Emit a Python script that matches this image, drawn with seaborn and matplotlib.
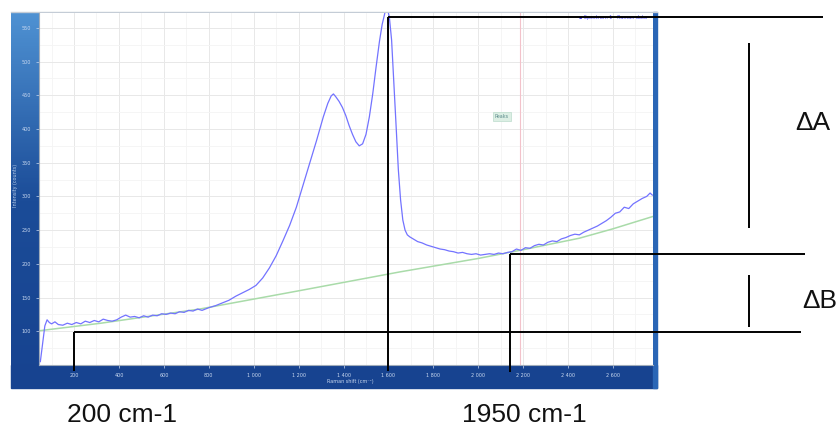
import numpy as np
import matplotlib
matplotlib.use('Agg')
import matplotlib.pyplot as plt
from matplotlib.ticker import MultipleLocator, FuncFormatter
import seaborn as sns

# Raman spectrum (cm-1, counts)
raman_shift = [50, 60, 70, 80, 90, 100, 115, 130, 150, 170, 190, 210, 230, 250, 270, 290,
               310, 330, 350, 370, 390, 410, 430, 450, 470, 490, 510, 530, 550, 570, 590,
               610, 630, 650, 670, 690, 710, 730, 750, 770, 800, 830, 860, 890, 920, 950,
               980, 1010, 1040, 1070, 1100, 1130, 1160, 1190, 1220, 1250, 1280, 1310, 1330,
               1345, 1355, 1365, 1380, 1395, 1410, 1425, 1440, 1455, 1470, 1485, 1500, 1515,
               1530, 1545, 1560, 1572, 1584, 1594, 1604, 1614, 1624, 1634, 1644, 1654, 1664,
               1674, 1684, 1695, 1710, 1730, 1750, 1770, 1790, 1810, 1830, 1850, 1870, 1890,
               1910, 1930, 1950, 1970, 1990, 2010, 2030, 2050, 2070, 2090, 2110, 2130, 2150,
               2170, 2190, 2210, 2230, 2250, 2270, 2290, 2310, 2330, 2350, 2370, 2390, 2410,
               2430, 2450, 2470, 2490, 2510, 2530, 2550, 2570, 2590, 2610, 2630, 2650, 2670,
               2690, 2710, 2730, 2750, 2765, 2775]
intensity = [55, 82, 108, 117, 113, 111, 114, 110, 109, 112, 110, 113, 111, 115, 113, 116,
             114, 118, 116, 115, 117, 121, 124, 121, 122, 120, 123, 121, 124, 123, 126,
             125, 127, 126, 129, 128, 131, 130, 133, 131, 135, 138, 142, 146, 152, 157,
             162, 168, 179, 194, 212, 234, 257, 284, 317, 350, 383, 418, 438,
             449, 452, 448, 441, 432, 420, 405, 392, 381, 375, 378, 392, 418,
             452, 492, 530, 555, 572, 580, 566, 532, 470, 405, 340, 295, 265,
             250, 243, 240, 237, 233, 231, 228, 226, 224, 222, 221, 219, 218,
             216, 217, 215, 214, 215, 213, 214, 215, 214, 216, 215, 217, 218,
             222, 220, 224, 223, 227, 229, 228, 232, 234, 233, 237, 239, 242,
             244, 243, 247, 250, 253, 256, 260, 264, 269, 275, 277, 284, 282,
             289, 293, 297, 300, 305, 302]

# fitted baseline (green)
baseline_shift = [50, 320, 760, 1200, 1650, 2000, 2200, 2450, 2600, 2775]
baseline_counts = [101, 112, 133, 160, 188, 208, 221, 238, 252, 270]

x_ticks = [200, 400, 600, 800, 1000, 1200, 1400, 1600, 1800, 2000, 2200, 2400, 2600]
y_ticks = [100, 150, 200, 250, 300, 350, 400, 450, 500, 550]

# hand drawn annotation (cm-1 / counts)
mark_x = [200, 1598, 2140]
level_top = 566
level_mid = 214
level_low = 99
cursor_x = 2186

fig = plt.figure(figsize=(8.4, 4.3), dpi=100)

# background: screenshot frame, pixel coordinates
bg = fig.add_axes([0, 0, 1, 1])
bg.set_xlim(0, 840)
bg.set_ylim(430, 0)
bg.axis('off')
grad = np.linspace(0, 1, 200).reshape(-1, 1)
cmap = matplotlib.colors.LinearSegmentedColormap.from_list('frame', ['#4f92d3', '#1b4c98', '#174390'])
bg.imshow(grad, extent=(11, 40, 388, 12), cmap=cmap, aspect='auto', zorder=1)
bg.add_patch(plt.Rectangle((11, 365), 646, 23, color='#174390', zorder=2))
bg.add_patch(plt.Rectangle((653, 12), 4, 376, color='#2a66b6', zorder=2))
bg.plot([11, 657], [12, 12], color='#c4ccd6', lw=1, zorder=3)
bg.text(16, 185, 'Intensity (counts)', rotation=90, ha='center', va='center',
        fontsize=3.5, color='#b8cdea')
bg.text(350, 382, 'Raman shift (cm\u207b\u00b9)', ha='center', va='center',
        fontsize=3.5, color='#c8d8f0')

txt = dict(family=['Liberation Sans', 'DejaVu Sans'], fontsize=19, color='#111111')
bg.text(795, 123, '\u0394A', ha='left', va='center', **txt)
bg.text(802, 301, '\u0394B', ha='left', va='center', **txt)
bg.text(67, 415, '200 cm-1', ha='left', va='center', **txt)
bg.text(462, 415, '1950 cm-1', ha='left', va='center', **txt)

# main plot area
ax = fig.add_axes([39 / 840, (430 - 365) / 430, 614 / 840, 352 / 430])
ax.set_facecolor('white')
ax.set_xlim(44, 2778)
ax.set_ylim(50, 572)
ax.xaxis.set_major_locator(plt.FixedLocator(x_ticks))
ax.yaxis.set_major_locator(plt.FixedLocator(y_ticks))
ax.xaxis.set_minor_locator(MultipleLocator(100))
ax.yaxis.set_minor_locator(MultipleLocator(25))
ax.xaxis.set_major_formatter(FuncFormatter(lambda v, p: f'{int(v):,}'.replace(',', ' ')))
ax.grid(which='major', color='#e8e8e8', lw=0.7)
ax.grid(which='minor', color='#f4f4f4', lw=0.6)
ax.set_axisbelow(True)
ax.tick_params(which='both', labelsize=3.5, colors='#c8d8f0', length=2, width=0.5, pad=4)
ax.tick_params(which='minor', length=0)
for s in ['top', 'right']:
    ax.spines[s].set_visible(False)
for s in ['left', 'bottom']:
    ax.spines[s].set_color('#a0acba')
    ax.spines[s].set_linewidth(0.8)

ax.axvline(cursor_x, color='#f3c2ca', lw=0.8, zorder=1)

sns.lineplot(x=baseline_shift, y=baseline_counts, ax=ax, color='#a9dba9', lw=1.1, zorder=2)
sns.lineplot(x=raman_shift, y=intensity, ax=ax, color='#7373ff', lw=0.9, zorder=3, sort=False)

ax.text(0.99, 0.995, '\u25aa Spectrum 1 - Raman data', transform=ax.transAxes, ha='right', va='top',
        fontsize=3.5, color='#4a4aff')
ax.text(0.754, 0.707, 'Peaks', transform=ax.transAxes, ha='center', va='center', fontsize=3.5,
        color='#5a8a8a', bbox=dict(boxstyle='square,pad=0.4', fc='#dcefe4', ec='#bcdccc', lw=0.5))

# annotation lines
line = dict(color='black', lw=1.4, clip_on=False, zorder=5, solid_capstyle='butt')
ax.plot([mark_x[1], 3535], [level_top, level_top], **line)
ax.plot([mark_x[2], 3455], [level_mid, level_mid], **line)
ax.plot([mark_x[0], 3437], [level_low, level_low], **line)
ax.plot([mark_x[0], mark_x[0]], [level_low, 41], **line)
ax.plot([mark_x[1], mark_x[1]], [level_top, 41], **line)
ax.plot([mark_x[2], mark_x[2]], [level_mid, 39], **line)
ax.plot([3206, 3206], [527, 253], **line)
ax.plot([3206, 3206], [183, 106], **line)

fig.savefig('out.png', dpi=100)
